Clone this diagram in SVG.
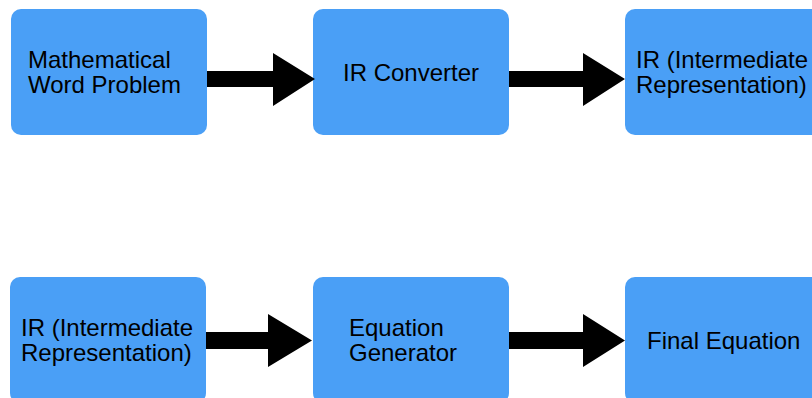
<svg xmlns="http://www.w3.org/2000/svg" width="812" height="398" viewBox="0 0 812 398">
  <style>
    .box { fill: #4a9ff6; }
    .lbl { font-family: "Liberation Sans", Arial, Helvetica, sans-serif; font-size: 24px; fill: #000000; }
    .arrow { fill: #000000; }
  </style>
  <rect width="812" height="398" fill="#ffffff"/>

  <!-- top row -->
  <g id="word-problem">
    <rect class="box" x="11" y="9" width="196" height="126" rx="10"/>
    <text class="lbl" x="28" y="68">Mathematical</text>
    <text class="lbl" x="28" y="93">Word Problem</text>
  </g>
  <g id="ir-converter">
    <rect class="box" x="313" y="9" width="196" height="126" rx="10"/>
    <text class="lbl" x="411" y="81" text-anchor="middle">IR Converter</text>
  </g>
  <g id="ir-top">
    <rect class="box" x="625" y="9" width="200" height="126" rx="10"/>
    <text class="lbl" x="636" y="68">IR (Intermediate</text>
    <text class="lbl" x="636" y="93">Representation)</text>
  </g>

  <!-- bottom row -->
  <g id="ir-bottom">
    <rect class="box" x="10" y="277" width="196" height="126" rx="10"/>
    <text class="lbl" x="21" y="336">IR (Intermediate</text>
    <text class="lbl" x="21" y="361">Representation)</text>
  </g>
  <g id="equation-generator">
    <rect class="box" x="313" y="277" width="196" height="126" rx="10"/>
    <text class="lbl" x="349" y="336">Equation</text>
    <text class="lbl" x="349" y="361">Generator</text>
  </g>
  <g id="final-equation">
    <rect class="box" x="625" y="277" width="200" height="126" rx="10"/>
    <text class="lbl" x="647" y="349">Final Equation</text>
  </g>

  <!-- block arrows -->
  <g id="connectors">
    <polygon class="arrow" points="207,71 273,71 273,53 315,79 273,106 273,87 207,87"/>
    <polygon class="arrow" points="509,71 583,71 583,53 625,79 583,106 583,87 509,87"/>
    <polygon class="arrow" points="206,332 268,332 268,314 312,340.5 268,367 268,349 206,349"/>
    <polygon class="arrow" points="509,332 583,332 583,314 625,340.5 583,367 583,349 509,349"/>
  </g>
</svg>
